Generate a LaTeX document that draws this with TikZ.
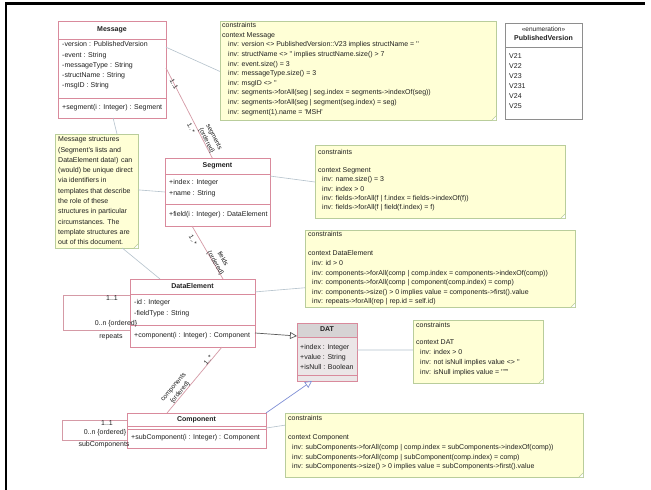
\documentclass[tikz,border=0pt]{standalone}
\usepackage{fontspec}
\setmainfont{Liberation Sans}
\usetikzlibrary{calc,arrows.meta}
\definecolor{clsc}{HTML}{D98A9C}
\definecolor{notef}{HTML}{FFFFD6}
\definecolor{notec}{HTML}{B9CD9B}
\definecolor{linkc}{HTML}{B5C2CC}
\definecolor{assoc}{HTML}{D59AA6}
\definecolor{genb}{HTML}{7F8FD6}
\definecolor{gend}{HTML}{5A5A5A}
\definecolor{enumc}{HTML}{8E8E8E}
\definecolor{datf}{HTML}{EBE6E7}
\definecolor{dath}{HTML}{D6D3D4}
\definecolor{txtc}{HTML}{202020}
\newcommand\ff{\fontsize{7}{9}\selectfont}
\newcommand\q{\textquotesingle}
\newcommand\fold[1]{%
  \fill[white] ($(#1.south east)+(-4pt,0)$) -- (#1.south east) -- ($(#1.south east)+(0,4pt)$) -- cycle;
  \draw[notec,line width=0.6pt] ($(#1.south east)+(-4pt,0)$) -- ($(#1.south east)+(0,4pt)$);}
\begin{document}
\begin{tikzpicture}[x=1pt,y=-1pt,
  box/.style={anchor=north west, inner sep=0, outer sep=0},
  cls/.style={box, draw=clsc, fill=white, line width=0.6pt},
  notebox/.style={box, draw=notec, fill=notef, line width=0.6pt},
  t/.style={anchor=west, inner sep=0, font=\ff, text height=5pt, text depth=1.5pt, text=txtc},
  tc/.style={t, anchor=center},
  tb/.style={tc, font=\ff\bfseries},
  sepl/.style={draw=clsc, line width=0.6pt},
  assocl/.style={draw=assoc, line width=0.7pt},
  linkl/.style={draw=linkc, line width=0.6pt},
  gen/.style={line width=0.7pt, -{Triangle[open,length=7pt,width=7pt,fill=white]}},
  lab/.style={inner sep=0, align=center, font=\fontsize{6.5}{8.5}\selectfont, text=txtc},
]
\fill[white] (0,0) rectangle (651,490);
\useasboundingbox (0,0) rectangle (651,490);
% frame
\draw[line width=2.2pt] (6,490) -- (6,3.5) -- (645,3.5);

% ---------- Message ----------
\node[cls, minimum width=108pt, minimum height=97pt] (msg) at (58,21) {};
\node[tb] (msg-t) at (112,30) {Message};
\draw[sepl] (58,39) -- (166,39);
\foreach \s [count=\i] in {{-version : PublishedVersion},{-event : String},{-messageType : String},{-structName : String},{-msgID : String}}
  \node[t] (msg-a\i) at ({62},{45+10.3*(\i-1)}) {\s};
\draw[sepl] (58,98) -- (166,98);
\node[t] (msg-o) at (62,108) {+segment(i : Integer) : Segment};

% ---------- constraint Message ----------
\node[notebox, minimum width=276pt, minimum height=99pt] (cm) at (220,21) {};
\fold{cm}
\node[t] (cm-1) at (222,26) {constraints};
\node[t] (cm-2) at (222,35.6) {context Message};
\foreach \s [count=\i from 3] in {
  {inv: version <> PublishedVersion::V23 implies structName = \q\q},
  {inv: structName <> \q\q{} implies structName.size() > 7},
  {inv: event.size() = 3},
  {inv: messageType.size() = 3},
  {inv: msgID <> \q\q},
  {inv: segments->forAll(seg | seg.index = segments->indexOf(seg))},
  {inv: segments->forAll(seg | segment(seg.index) = seg)},
  {inv: segment(1).name = \q MSH\q}}
  \node[t] (cm-\i) at ({228},{26+9.6*(\i-1)}) {\s};

% ---------- enumeration ----------
\node[box, draw=enumc, fill=white, line width=0.6pt, minimum width=77pt, minimum height=96pt] (en) at (505,23) {};
\node[tc, font=\fontsize{6.5}{8}\selectfont] (en-s) at (543.5,29.5) {«enumeration»};
\node[tb] (en-n) at (543.5,39) {PublishedVersion};
\draw[enumc, line width=0.6pt] (505,47) -- (582,47);
\foreach \s [count=\i] in {V21,V22,V23,V231,V24,V25}
  \node[t] (en-l\i) at ({509},{57+10*(\i-1)}) {\s};

% ---------- note ----------
\node[notebox, minimum width=83pt, minimum height=114pt] (note) at (55,134) {};
\fold{note}
\foreach \s [count=\i] in {{Message structures},{(Segment's lists and},{DataElement data!) can},{(would) be unique direct},{via identifiers in},{templates that describe},{the role of these},{structures in particular},{circumstances. The},{template structures are},{out of this document.}}
  \node[t] (note-\i) at ({58},{140+10.3*(\i-1)}) {\s};

% ---------- Segment ----------
\node[cls, minimum width=105pt, minimum height=68pt] (seg) at (165,158) {};
\node[tb] (seg-t) at (217.5,166) {Segment};
\draw[sepl] (165,174) -- (270,174);
\node[t] (seg-a1) at (169,183) {+index : Integer};
\node[t] (seg-a2) at (169,194) {+name : String};
\draw[sepl] (165,204) -- (270,204);
\node[t] (seg-o) at (169,215) {+field(i : Integer) : DataElement};

% ---------- constraint Segment ----------
\node[notebox, minimum width=250pt, minimum height=73pt] (cs) at (315,145) {};
\fold{cs}
\node[t] (cs-1) at (318,153) {constraints};
\node[t] (cs-2) at (318,171) {context Segment};
\foreach \s [count=\i from 3] in {
  {inv: name.size() = 3},
  {inv: index > 0},
  {inv: fields->forAll(f | f.index = fields->indexOf(f))},
  {inv: fields->forAll(f | field(f.index) = f)}}
  \node[t] (cs-\i) at ({322},{180+9.3*(\i-3)}) {\s};

% ---------- DataElement ----------
\node[cls, minimum width=125pt, minimum height=68pt] (de) at (130,279) {};
\node[tb] (de-t) at (192.5,287) {DataElement};
\draw[sepl] (130,294) -- (255,294);
\node[t] (de-a1) at (134,303) {-id : Integer};
\node[t] (de-a2) at (134,314) {-fieldType : String};
\draw[sepl] (130,325) -- (255,325);
\node[t] (de-o) at (134,336) {+component(i : Integer) : Component};

% ---------- constraint DataElement ----------
\node[notebox, minimum width=270pt, minimum height=77pt] (cde) at (305,230) {};
\fold{cde}
\node[t] (cde-1) at (308,235) {constraints};
\node[t] (cde-2) at (308,254) {context DataElement};
\foreach \s [count=\i from 3] in {
  {inv: id > 0},
  {inv: components->forAll(comp | comp.index = components->indexOf(comp))},
  {inv: components->forAll(comp | component(comp.index) = comp)},
  {inv: components->size() > 0 implies value = components->first().value},
  {inv: repeats->forAll(rep | rep.id = self.id)}}
  \node[t] (cde-\i) at ({312},{264+9.5*(\i-3)}) {\s};

% ---------- DAT ----------
\node[cls, fill=datf, minimum width=60pt, minimum height=58pt] (dat) at (297,323) {};
\fill[dath] (dat.north west) rectangle ($(dat.north east)+(0,-14pt)$);
\draw[clsc, line width=0.6pt] (dat.north west) rectangle (dat.south east);
\draw[sepl] (297,337) -- (357,337);
\node[tb] (dat-t) at (327,330) {DAT};
\node[t] (dat-a1) at (300,348) {+index : Integer};
\node[t] (dat-a2) at (300,358) {+value : String};
\node[t] (dat-a3) at (300,368) {+isNull : Boolean};
\draw[sepl] (297,375) -- (357,375);

% ---------- constraint DAT ----------
\node[notebox, minimum width=130pt, minimum height=63pt] (cdat) at (413,320) {};
\fold{cdat}
\node[t] (cdat-1) at (416,326) {constraints};
\node[t] (cdat-2) at (416,343) {context DAT};
\node[t] (cdat-3) at (420,353) {inv: index > 0};
\node[t] (cdat-4) at (420,363) {inv: not isNull implies value <> \q\q};
\node[t] (cdat-5) at (420,373) {inv: isNull implies value = \q"{}"\q};

% ---------- Component ----------
\node[cls, minimum width=139pt, minimum height=35pt] (comp) at (127,413) {};
\node[tb] (comp-t) at (196.5,419.5) {Component};
\draw[sepl] (127,426) -- (266,426);
\draw[sepl] (127,429) -- (266,429);
\node[t] (comp-o) at (131,438) {+subComponent(i : Integer) : Component};

% ---------- constraint Component ----------
\node[notebox, minimum width=298pt, minimum height=64pt] (ccomp) at (285,413) {};
\fold{ccomp}
\node[t] (cc-1) at (288,419) {constraints};
\node[t] (cc-2) at (288,438) {context Component};
\foreach \s [count=\i from 3] in {
  {inv: subComponents->forAll(comp | comp.index = subComponents->indexOf(comp))},
  {inv: subComponents->forAll(comp | subComponent(comp.index) = comp)},
  {inv: subComponents->size() > 0 implies value = subComponents->first().value}}
  \node[t] (cc-\i) at ({292},{448+9.5*(\i-3)}) {\s};

% ---------- note links ----------
\draw[linkl] ($(msg.north east)!0.27!(msg.south east)$) -- ($(cm.north west)!0.51!(cm.south west)$);
\draw[linkl] ($(seg.north east)!0.265!(seg.south east)$) -- ($(cs.north west)!0.507!(cs.south west)$);
\draw[linkl] ($(note.north east)!0.49!(note.south east)$) -- ($(seg.north west)!0.5!(seg.south west)$);
\draw[linkl] ($(note.north west)!0.747!(note.north east)$) -- ($(msg.south west)!0.51!(msg.south east)$);
\draw[linkl] ($(note.south west)!0.81!(note.south east)$) -- ($(de.north west)!0.24!(de.north east)$);
\draw[linkl] ($(de.north east)!0.19!(de.south east)$) -- ($(cde.north west)!0.75!(cde.south west)$);
\draw[linkl] ($(dat.north east)!0.466!(dat.south east)$) -- ($(cdat.north west)!0.476!(cdat.south west)$);
\draw[linkl] ($(comp.north east)!0.43!(comp.south east)$) -- ($(ccomp.north west)!0.19!(ccomp.south west)$);

% ---------- associations ----------
\draw[assocl] ($(msg.north east)!0.485!(msg.south east)$) -- ($(seg.north west)!0.45!(seg.north east)$);
\node[lab, rotate=-63] (a1-m) at (174,84) {1..1};
\node[lab, rotate=-63] (a1-s) at (191,128) {1..*};
\node[lab, rotate=-63] (a1-r) at (210,139) {segments\\\{ordered\}};

\draw[assocl] ($(seg.south west)!0.257!(seg.south east)$) -- ($(de.north west)!0.744!(de.north east)$);
\node[lab, rotate=-60] (a2-s) at (193,240) {1..*};
\node[lab, rotate=-60] (a2-r) at (219,261) {fields\\\{ordered\}};

\draw[assocl] ($(de.south west)!0.736!(de.south east)$) -- ($(comp.north west)!0.288!(comp.north east)$);
\node[lab, rotate=50] (a3-s) at (208,360) {1..*};
\node[lab, rotate=50] (a3-r) at (177,390) {components\\\{ordered\}};

% self associations
\draw[assocl] ($(de.north west)!0.235!(de.south west)$) -- ++(-67,0) |- ($(de.north west)!0.75!(de.south west)$);
\node[tc] (de-l1) at (112,299) {1..1};
\node[tc] (de-l2) at (116,324) {0..n \{ordered\}};
\node[tc] (de-l3) at (111,337) {repeats};

\draw[assocl] ($(comp.north west)!0.2!(comp.south west)$) -- ++(-65,0) |- ($(comp.north west)!0.77!(comp.south west)$);
\node[tc] (comp-l1) at (107,424) {1..1};
\node[tc] (comp-l2) at (105,433) {0..n \{ordered\}};
\node[tc] (comp-l3) at (104,445) {subComponents};

% ---------- generalizations ----------
\draw[gen, draw=gend] ($(de.north east)!0.794!(de.south east)$) -- ($(dat.north west)!0.224!(dat.south west)$);
\draw[gen, draw=genb] (comp.north east) -- ($(dat.south west)!0.25!(dat.south east)$);
\end{tikzpicture}
\end{document}
